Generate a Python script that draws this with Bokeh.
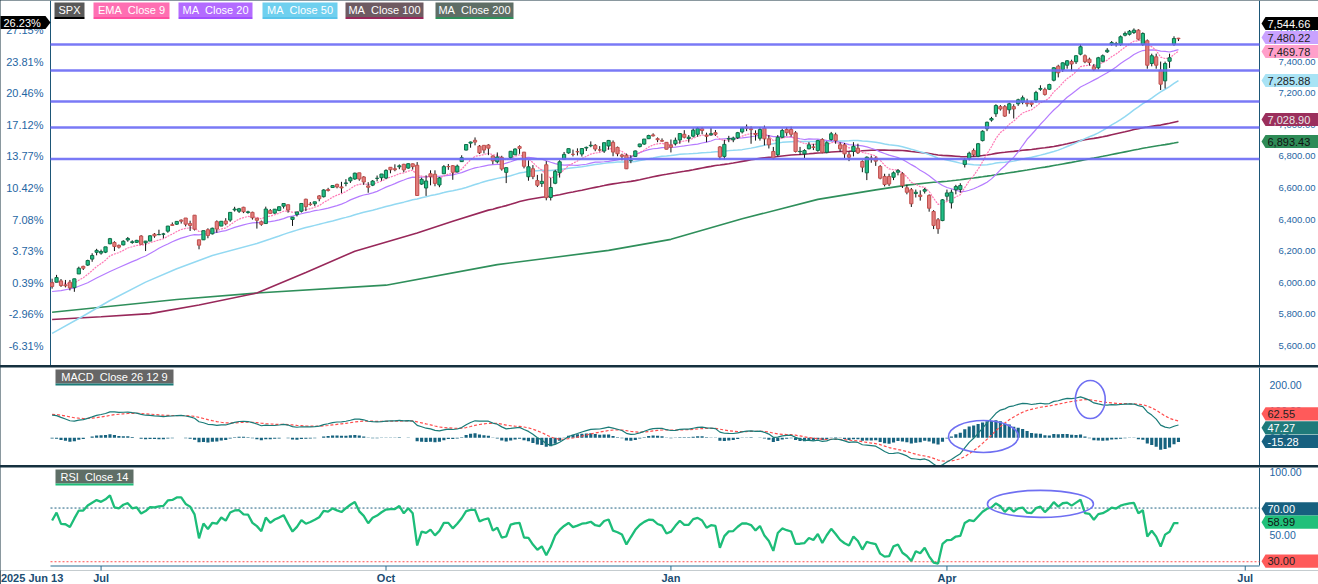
import numpy as np
from bokeh.plotting import figure
from bokeh.layouts import column
from bokeh.models import Range1d, LinearAxis, FixedTicker, NumeralTickFormatter
from bokeh.core.properties import value
from bokeh.embed import file_html
from bokeh.resources import INLINE

FONT = "Liberation Sans"

# ---------------- values (daily candles, index = trading day) ----------------
opens = [6000.6, 6004, 6012, 5987, 6004, 5969, 6056, 6104, 6112, 6150,
         6193, 6188, 6194, 6247, 6255, 6237, 6240, 6271, 6255, 6256,
         6296, 6253, 6264, 6308, 6304, 6307, 6327, 6368, 6371, 6397,
         6410, 6375, 6428, 6272, 6272, 6336, 6310, 6387, 6359, 6391,
         6397, 6461, 6453, 6478, 6445, 6446, 6409, 6386, 6375, 6457,
         6441, 6457, 6485, 6494, 6401, 6433, 6453, 6529, 6498, 6500,
         6550, 6545, 6590, 6603, 6623, 6607, 6629, 6645, 6657, 6696,
         6670, 6613, 6618, 6661, 6665, 6663, 6731, 6722, 6734, 6750,
         6726, 6753, 6744, 6625, 6600, 6690, 6687, 6619, 6690, 6736,
         6741, 6702, 6767, 6840, 6884, 6902, 6865, 6870, 6872, 6803,
         6766, 6794, 6699, 6793, 6810, 6862, 6827, 6671, 6722, 6647,
         6628, 6747, 6540, 6630, 6697, 6782, 6822, 6813, 6830, 6815,
         6853, 6867, 6870, 6841, 6834, 6866, 6889, 6857, 6809, 6808,
         6774, 6800, 6862, 6878, 6912, 6936, 6912, 6901, 6889, 6871,
         6880, 6904, 6940, 6913, 6928, 6940, 6975, 6935, 6937, 6950,
         6860, 6800, 6910, 6905, 6918, 6955, 6985, 6975, 6945, 6915,
         6979, 6911, 6831, 6810, 6921, 6970, 6970, 6949, 6830, 6816,
         6848, 6860, 6837, 6907, 6826, 6907, 6937, 6873, 6873, 6810,
         6831, 6852, 6768, 6696, 6790, 6790, 6736, 6673, 6673, 6668,
         6700, 6690, 6601, 6589, 6565, 6555, 6580, 6553, 6451, 6399,
         6394, 6548, 6506, 6589, 6590, 6749, 6785, 6837, 6801, 6900,
         6975, 7030, 7070, 7115, 7115, 7095, 7115, 7133, 7143, 7140,
         7140, 7156, 7225, 7223, 7225, 7282, 7371, 7350, 7377, 7400,
         7399, 7447, 7437, 7415, 7367, 7361, 7402, 7462, 7508, 7508,
         7508, 7567, 7573, 7584, 7599, 7508, 7532, 7388, 7430, 7346,
         7278, 7402, 7510, 7548]
highs = [6026, 6050, 6024, 6018, 6018, 6026, 6102, 6108, 6146, 6187,
         6215, 6210, 6227, 6284, 6263, 6242, 6269, 6290, 6269, 6272,
         6302, 6265, 6301, 6315, 6336, 6316, 6360, 6382, 6390, 6401,
         6410, 6393, 6428, 6272, 6330, 6345, 6349, 6395, 6390, 6409,
         6446, 6481, 6474, 6481, 6456, 6450, 6410, 6394, 6482, 6467,
         6467, 6483, 6504, 6494, 6416, 6449, 6502, 6532, 6511, 6513,
         6555, 6592, 6601, 6616, 6627, 6639, 6656, 6672, 6697, 6696,
         6675, 6637, 6650, 6679, 6689, 6718, 6731, 6750, 6749, 6753,
         6756, 6755, 6764, 6665, 6680, 6712, 6712, 6670, 6745, 6752,
         6745, 6748, 6807, 6875, 6894, 6920, 6872, 6870, 6877, 6806,
         6825, 6804, 6729, 6834, 6851, 6870, 6828, 6775, 6745, 6683,
         6691, 6770, 6664, 6715, 6776, 6828, 6849, 6843, 6851, 6851,
         6862, 6895, 6878, 6865, 6886, 6904, 6901, 6862, 6817, 6818,
         6807, 6837, 6880, 6910, 6937, 6946, 6920, 6914, 6890, 6907,
         6919, 6945, 6966, 6935, 6978, 6986, 6985, 6950, 6980, 6967,
         6865, 6905, 6930, 6925, 6955, 6985, 7002, 6990, 6965, 6985,
         6995, 6935, 6860, 6935, 6975, 6985, 6988, 6960, 6860, 6845,
         6890, 6880, 6905, 6915, 6895, 6955, 6950, 6890, 6885, 6830,
         6890, 6880, 6775, 6800, 6805, 6800, 6745, 6690, 6690, 6705,
         6720, 6700, 6620, 6600, 6590, 6585, 6600, 6560, 6460, 6410,
         6530, 6590, 6590, 6620, 6630, 6790, 6830, 6850, 6885, 6965,
         7020, 7050, 7130, 7125, 7125, 7140, 7130, 7165, 7185, 7165,
         7150, 7215, 7250, 7235, 7260, 7365, 7380, 7395, 7410, 7412,
         7440, 7510, 7445, 7425, 7385, 7430, 7445, 7485, 7530, 7525,
         7565, 7590, 7600, 7610, 7605, 7585, 7540, 7450, 7450, 7400,
         7400, 7450, 7560, 7550]
lows = [5963, 6004, 5974, 5971, 5952, 5943, 6056, 6081, 6107, 6133,
        6174, 6178, 6188, 6244, 6201, 6217, 6237, 6260, 6247, 6252,
        6242, 6201, 6264, 6285, 6303, 6282, 6317, 6360, 6366, 6375,
        6357, 6328, 6331, 6212, 6272, 6282, 6306, 6317, 6359, 6364,
        6386, 6451, 6442, 6441, 6437, 6400, 6343, 6361, 6375, 6439,
        6437, 6454, 6470, 6444, 6360, 6420, 6445, 6454, 6488, 6485,
        6516, 6540, 6578, 6600, 6598, 6568, 6611, 6632, 6652, 6646,
        6620, 6570, 6612, 6642, 6646, 6657, 6693, 6706, 6719, 6700,
        6722, 6717, 6550, 6620, 6550, 6617, 6611, 6605, 6689, 6715,
        6652, 6698, 6765, 6838, 6855, 6870, 6815, 6819, 6808, 6751,
        6756, 6710, 6631, 6783, 6810, 6816, 6724, 6646, 6656, 6606,
        6607, 6522, 6521, 6624, 6666, 6779, 6817, 6800, 6806, 6799,
        6834, 6858, 6833, 6831, 6822, 6842, 6801, 6801, 6775, 6720,
        6757, 6797, 6857, 6873, 6910, 6926, 6890, 6893, 6845, 6825,
        6869, 6880, 6914, 6888, 6920, 6925, 6940, 6890, 6930, 6930,
        6780, 6780, 6890, 6890, 6910, 6945, 6960, 6880, 6900, 6900,
        6870, 6850, 6780, 6800, 6915, 6930, 6925, 6825, 6810, 6790,
        6845, 6840, 6830, 6820, 6820, 6900, 6880, 6830, 6790, 6770,
        6800, 6815, 6700, 6650, 6760, 6740, 6655, 6610, 6612, 6650,
        6680, 6600, 6560, 6480, 6540, 6520, 6565, 6450, 6340, 6310,
        6390, 6520, 6470, 6560, 6570, 6730, 6775, 6800, 6795, 6895,
        6960, 7020, 7050, 7090, 7050, 7070, 7040, 7120, 7130, 7115,
        7115, 7140, 7215, 7185, 7220, 7275, 7300, 7335, 7355, 7340,
        7385, 7440, 7390, 7375, 7340, 7350, 7395, 7455, 7500, 7495,
        7500, 7560, 7565, 7575, 7535, 7500, 7355, 7370, 7355, 7220,
        7230, 7360, 7500, 7530]
closes = [5976.97, 6033.11, 5982.72, 5980.87, 5967.84, 6025.17, 6092.18, 6092.16, 6141.02, 6173.07,
          6204.95, 6198.01, 6227.42, 6279.35, 6229.98, 6225.52, 6263.26, 6280.46, 6259.75, 6268.56,
          6243.76, 6263.70, 6297.36, 6296.79, 6305.60, 6309.62, 6358.91, 6363.35, 6388.64, 6389.77,
          6370.86, 6362.90, 6339.39, 6238.01, 6329.94, 6299.19, 6345.06, 6340.00, 6389.45, 6373.45,
          6445.76, 6466.58, 6468.54, 6449.80, 6449.15, 6411.37, 6395.78, 6370.17, 6466.91, 6439.32,
          6465.94, 6481.40, 6501.86, 6460.26, 6415.54, 6448.26, 6502.08, 6481.50, 6495.15, 6512.61,
          6532.04, 6587.47, 6584.29, 6615.28, 6606.76, 6600.35, 6631.96, 6664.36, 6693.75, 6656.92,
          6637.97, 6604.72, 6643.70, 6661.21, 6688.46, 6711.20, 6715.35, 6715.79, 6740.28, 6714.59,
          6753.72, 6735.11, 6552.51, 6654.72, 6644.31, 6671.06, 6629.07, 6664.01, 6735.13, 6735.35,
          6699.40, 6738.44, 6791.69, 6875.16, 6890.89, 6890.59, 6822.34, 6840.20, 6851.97, 6771.55,
          6796.29, 6720.32, 6728.80, 6832.43, 6846.61, 6850.92, 6737.49, 6734.11, 6672.41, 6617.32,
          6642.16, 6538.76, 6602.99, 6705.12, 6765.88, 6812.61, 6849.09, 6812.63, 6829.37, 6849.72,
          6857.12, 6870.40, 6846.51, 6840.51, 6886.68, 6901.00, 6827.41, 6816.51, 6800.26, 6721.43,
          6774.76, 6834.50, 6878.49, 6909.79, 6932.05, 6929.94, 6905.74, 6896.24, 6845.50, 6858.47,
          6902.05, 6944.82, 6920.93, 6921.46, 6966.28, 6977, 6964, 6927, 6944, 6940,
          6797, 6876, 6913, 6916, 6950, 6979, 6978, 6969, 6939, 6970,
          6911, 6873, 6789, 6921, 6964, 6950, 6940, 6831, 6832, 6837,
          6873, 6857, 6900, 6826, 6886, 6943, 6900, 6848, 6816, 6795,
          6864, 6823, 6732, 6795, 6780, 6770, 6662, 6622, 6625, 6696,
          6710, 6616, 6573, 6500, 6573, 6546, 6590, 6472, 6363, 6342,
          6525, 6569, 6573, 6609, 6616, 6778, 6820, 6810, 6880, 6959,
          7016, 7040, 7122, 7100, 7055, 7133, 7100, 7158, 7171, 7133,
          7130, 7204, 7230, 7192, 7255, 7361, 7329, 7392, 7405, 7385,
          7437, 7494, 7399, 7394, 7350, 7424, 7437, 7472, 7520, 7514,
          7557, 7578, 7592, 7599, 7542, 7578, 7377, 7437, 7377, 7257,
          7388, 7424, 7546, 7544.66]

ma20_pre_idx = [0, 2, 5, 8, 10, 13, 15, 18]
ma20_pre_val = [5945, 5950, 5967, 6000, 6030, 6072, 6097, 6134]
ma50_pre_idx = [0, 7, 13, 21, 28, 36, 46, 48]
ma50_pre_val = [5680, 5790, 5888, 6004, 6089, 6173, 6249, 6268]
ma100_pre_idx = [0, 11, 22, 33, 46, 57, 68, 82, 90, 98]
ma100_pre_val = [5768, 5785, 5805, 5860, 5935, 6065, 6200, 6315, 6390, 6460]
ma200_pre_idx = [0, 28, 46, 75, 100, 125, 139, 155, 172, 185, 192, 198]
ma200_pre_val = [5814, 5894, 5935, 5985, 6115, 6205, 6275, 6405, 6528, 6588, 6618, 6636]
ema9_start = 5998.0
ema12_start, ema26_start, signal_start = 5978.0, 5893.0, 88.0
rsi_gain_start, rsi_loss_start = 15.0, 9.7

h_levels = [7508, 7344, 7147, 6983, 6784]
price_ticks = [5600, 5800, 6000, 6200, 6400, 6600, 6800, 7000, 7200, 7400, 7600]
macd_ticks = [0, 100, 200]
rsi_ticks = [30, 50, 70, 100]
rsi_bands = [70, 30]
month_ticks = [11, 75, 139, 201, 268]
month_labels = ["Jul", "Oct", "Jan", "Apr", "Jul"]
first_tick = -4.5
first_label = "2025 Jun 13"

price_tags = [7544.66, 7480.22, 7469.78, 7285.88, 7028.90, 6893.43]
macd_tags = [62.55, 47.27, -15.28]
rsi_tags = [70.00, 58.99, 30.00]
change_tag = 26.23

macd_ell_x = [209.2, 233.2]
macd_ell_y = [4.9, 143.7]
macd_ell_w = [15.7, 6.7]
macd_ell_h = [120.0, 142.6]
rsi_ell_x = [222.0]
rsi_ell_y = [73.1]
rsi_ell_w = [23.8]
rsi_ell_h = [20.1]

n = len(closes)
assert len(opens) == n and len(highs) == n and len(lows) == n, (len(opens), len(highs), len(lows), n)

# ---------------- page-pixel helpers (layout only) ----------------
def ix(px):
    return (px - 51.6) / 4.452

def price_at(py):      # p1 frame: page y 0..365
    return 6000 + (282.3 - py) * 6.329

def macd_at(py):       # p2 frame: page y 367..465
    return (437.3 - py) / 0.2665

RSI_TOP, RSI_PX = 100.2, 1.3425
def rsi_at(py):        # p3 frame: page y 467..570
    return RSI_TOP - (py - 467) / RSI_PX

XL, XR = ix(50), ix(1259)      # plotting area between the two scale lines

# ---------------- indicators ----------------
idx = np.arange(n)
c = np.array(closes, float)
o = np.array(opens, float)
h = np.array(highs, float)
l = np.array(lows, float)

def ema(series, span, start):
    a = 2.0 / (span + 1)
    out = np.empty(len(series))
    out[0] = start
    for i in range(1, len(series)):
        out[i] = out[i - 1] + a * (series[i] - out[i - 1])
    return out

def sma_line(w, pre_idx, pre_val):
    s = np.convolve(c, np.ones(w) / w, mode="valid")
    return list(pre_idx) + list(range(w - 1, n)), list(pre_val) + list(s)

ema9 = ema(c, 9, ema9_start)
ma20_x, ma20_y = sma_line(20, ma20_pre_idx, ma20_pre_val)
ma50_x, ma50_y = sma_line(50, ma50_pre_idx, ma50_pre_val)
ma100_x, ma100_y = sma_line(100, ma100_pre_idx, ma100_pre_val)
ma200_x, ma200_y = sma_line(200, ma200_pre_idx, ma200_pre_val)

e12 = ema(c, 12, ema12_start)
e26 = ema(c, 26, ema26_start)
macd = e12 - e26
sig = np.empty(n)
sig[0] = signal_start
for i in range(1, n):
    sig[i] = sig[i - 1] + 0.2 * (macd[i] - sig[i - 1])
hist = macd - sig

ag, al = rsi_gain_start, rsi_loss_start
rsi = np.empty(n)
rsi[0] = 100 - 100 / (1 + ag / al)
for i in range(1, n):
    d = c[i] - c[i - 1]
    ag = (ag * 13 + max(d, 0)) / 14
    al = (al * 13 + max(-d, 0)) / 14
    rsi[i] = 100 - 100 / (1 + ag / al)

# ---------------- figures ----------------
xr = Range1d(ix(0), ix(1318))
AXIS_COL = "#1d5677"
LABEL_COL = "#1f66a3"

def make_fig(frame_h, yr, bottom_border=0, xaxis=None):
    p = figure(frame_width=1318, frame_height=frame_h, x_range=xr, y_range=yr,
               y_axis_location="right", x_axis_location=xaxis,
               output_backend="svg", toolbar_location=None,
               min_border_left=0, min_border_right=0, min_border_top=0,
               min_border_bottom=bottom_border, background_fill_color="white",
               border_fill_color="white")
    p.outline_line_color = None
    p.grid.visible = False
    return p

def quiet_axis(ax):
    ax.axis_line_color = None
    ax.major_tick_line_color = None
    ax.minor_tick_line_color = None
    ax.major_tick_out = 0
    ax.major_tick_in = 0
    ax.minor_tick_out = 0
    ax.minor_tick_in = 0

def style_right(p, ticks, standoff, size):
    ax = p.yaxis[0]
    ax.ticker = FixedTicker(ticks=ticks)
    ax.formatter = NumeralTickFormatter(format="0,0.00")
    quiet_axis(ax)
    ax.major_label_text_color = LABEL_COL
    ax.major_label_text_font = FONT
    ax.major_label_text_font_size = size
    ax.major_label_standoff = standoff

def scale_line(p, yr):
    p.line([ix(1259), ix(1259)], [yr.start, yr.end], line_color=AXIS_COL, line_width=1)

def tag(p, yconv, py, text, bg, fg):
    xs = [ix(v) for v in (1261, 1265, 1318, 1318, 1265)]
    ys = [yconv(py), yconv(py - 6.6), yconv(py - 6.6), yconv(py + 6.6), yconv(py + 6.6)]
    p.patch(xs, ys, fill_color=bg, line_color=None, level="overlay")
    p.text(x=[ix(1267)], y=[yconv(py)], text=[text], text_color=fg, text_font=value(FONT),
           text_font_size="11px", text_baseline="middle", text_align="left", level="overlay")

def legend_box(p, yconv, left, right, top, bottom, text, bg, under):
    p.quad(left=[ix(left)], right=[ix(right)], top=[yconv(top)], bottom=[yconv(bottom)],
           fill_color=bg, line_color=None)
    p.quad(left=[ix(left)], right=[ix(right)], top=[yconv(bottom)], bottom=[yconv(bottom + 2)],
           fill_color=under, line_color=None)
    p.text(x=[ix((left + right) / 2)], y=[yconv((top + bottom) / 2)], text=[text],
           text_align="center", text_baseline="middle", text_color="white",
           text_font=value(FONT), text_font_size="11px")

# ---- price panel ----
yr1 = Range1d(price_at(365), price_at(0))
p1 = make_fig(365, yr1)
style_right(p1, price_ticks, -40, "9.5px")
pct = {t: "%.2f%%" % ((t / closes[0] - 1) * 100) for t in price_ticks}
lax = LinearAxis(ticker=FixedTicker(ticks=price_ticks), major_label_overrides=pct,
                 major_label_text_color=LABEL_COL, major_label_text_font=FONT,
                 major_label_text_font_size="11px", major_label_standoff=-43)
quiet_axis(lax)
p1.add_layout(lax, "left")
scale_line(p1, yr1)
p1.line([ix(50), ix(50)], [yr1.start, yr1.end], line_color=AXIS_COL, line_width=1)

p1.line(ma200_x, ma200_y, line_color="#2f8f5b", line_width=1.6)
p1.line(ma100_x, ma100_y, line_color="#98285a", line_width=1.6)
p1.line(ma50_x, ma50_y, line_color="#93d9f2", line_width=1.5)
p1.line(ma20_x, ma20_y, line_color="#b57cff", line_width=1.2)
p1.line(idx, ema9, line_color="#ff7ab6", line_width=1.2, line_dash="2 1")

up = c >= o
p1.segment(x0=idx, y0=l, x1=idx, y1=h, line_color="#111111", line_width=1)
p1.vbar(x=idx[up], width=0.72, top=c[up], bottom=o[up], fill_color="#1fbf85", line_color="#0f6e48")
p1.vbar(x=idx[~up], width=0.72, top=o[~up], bottom=c[~up], fill_color="#e27d7d", line_color="#c0504d")

for lv in h_levels:
    p1.line([XL, XR], [lv, lv], line_color="#6a6af5", line_width=2.5, line_alpha=0.9)

legend_items = [("SPX", "#595959", "#000000", 54, 84),
                ("EMA\u00a0 Close 9", "#ff6fb2", "#ff4f9f", 93, 169),
                ("MA\u00a0 Close 20", "#b36bff", "#a050ff", 178, 252),
                ("MA\u00a0 Close 50", "#6fd0ef", "#59c4ea", 262, 337),
                ("MA\u00a0 Close 100", "#6e5b62", "#98285a", 345, 423),
                ("MA\u00a0 Close 200", "#5f6e66", "#2f8f5b", 435, 513)]
for text, bg, under, lft, rgt in legend_items:
    legend_box(p1, price_at, lft, rgt, 2, 16.5, text, bg, under)

price_tag_py = [23, 37, 51, 80, 119, 141]
price_tag_style = [("#000000", "white"), ("#c9a2ff", "#222222"), ("#ff9fca", "#222222"),
                   ("#a9e3f5", "#222222"), ("#9b2f5c", "#e8e8e8"), ("#2e8b57", "#111111")]
for v, py, (bg, fg) in zip(price_tags, price_tag_py, price_tag_style):
    tag(p1, price_at, py, "{:,.2f}".format(v), bg, fg)
# change-since-start tag on the left scale
lx = [ix(v) for v in (0, 45, 50, 45, 0)]
ly = [price_at(v) for v in (15.4, 15.4, 22, 28.6, 28.6)]
p1.patch(lx, ly, fill_color="#000000", line_color=None, level="overlay")
p1.text(x=[ix(3)], y=[price_at(22)], text=["%.2f%%" % change_tag], text_color="white",
        text_font=value(FONT), text_font_size="11px", text_baseline="middle",
        text_align="left", level="overlay")

# ---- MACD panel ----
yr2 = Range1d(macd_at(465), macd_at(367))
p2 = make_fig(98, yr2)
style_right(p2, macd_ticks, -49, "10.5px")
scale_line(p2, yr2)
p2.vbar(x=idx, width=0.7, top=hist, bottom=0, fill_color="#17637f", line_color=None)
p2.line(idx, sig, line_color="#ff4d4d", line_width=1.2, line_dash="3 2")
p2.line(idx, macd, line_color="#1a7b78", line_width=1.2)
p2.ellipse(x=macd_ell_x, y=macd_ell_y, width=macd_ell_w, height=macd_ell_h,
           fill_color=None, line_color="#6f6ff2", line_width=1.6)
legend_box(p2, macd_at, 55, 173, 369, 383, "MACD\u00a0 Close 26 12 9", "#666666", "#1a7b78")
macd_tag_py = [413.3, 427.3, 441]
macd_tag_style = [("#ff5a5a", "#222222"), ("#1f7a7a", "white"), ("#17607f", "white")]
for v, py, (bg, fg) in zip(macd_tags, macd_tag_py, macd_tag_style):
    tag(p2, macd_at, py, "%.2f" % v, bg, fg)

# ---- RSI panel (with the date scale below) ----
yr3 = Range1d(rsi_at(570), rsi_at(467))
p3 = make_fig(103, yr3, bottom_border=14, xaxis="below")
style_right(p3, rsi_ticks, -49, "10.5px")
p3.line([ix(1259), ix(1259)], [rsi_at(565), yr3.end], line_color=AXIS_COL, line_width=1)
for lv, colr in zip(rsi_bands, ["#1d6080", "#ff5050"]):
    p3.line([XL, XR], [lv, lv], line_color=colr, line_width=1, line_dash="2 2")
p3.line(idx, rsi, line_color="#1dbd79", line_width=2.3)
p3.ellipse(x=rsi_ell_x, y=rsi_ell_y, width=rsi_ell_w, height=rsi_ell_h,
           fill_color=None, line_color="#6f6ff2", line_width=1.6)
legend_box(p3, rsi_at, 55, 133, 469, 483, "RSI\u00a0 Close 14", "#5f6e66", "#1dbd79")
rsi_tag_py = [508.3, 521.7, 560.7]
rsi_tag_style = [("#17607f", "white"), ("#20c07a", "#111111"), ("#ff5a5a", "#222222")]
for v, py, (bg, fg) in zip(rsi_tags, rsi_tag_py, rsi_tag_style):
    tag(p3, rsi_at, py, "%.2f" % v, bg, fg)

# date axis line and tick marks
p3.line([XL, XR], [rsi_at(565.5), rsi_at(565.5)], line_color="#2a6d8f", line_width=1.2)
p3.segment(x0=month_ticks, y0=[rsi_at(565.5)] * len(month_ticks),
           x1=month_ticks, y1=[rsi_at(571)] * len(month_ticks), line_color="#2a6d8f", line_width=1)

xa = p3.xaxis[0]
xa.ticker = FixedTicker(ticks=[first_tick] + month_ticks)
labels = {first_tick: first_label}
labels.update({t: s for t, s in zip(month_ticks, month_labels)})
xa.major_label_overrides = labels
quiet_axis(xa)
xa.major_label_text_font = FONT
xa.major_label_text_font_size = "11px"
xa.major_label_text_font_style = "bold"
xa.major_label_text_color = "#1b4d72"
xa.major_label_standoff = 1

layout = column(p1, p2, p3, spacing=2, styles={"background-color": "#15303f"})
open("out.html", "w").write(file_html(layout, INLINE))
